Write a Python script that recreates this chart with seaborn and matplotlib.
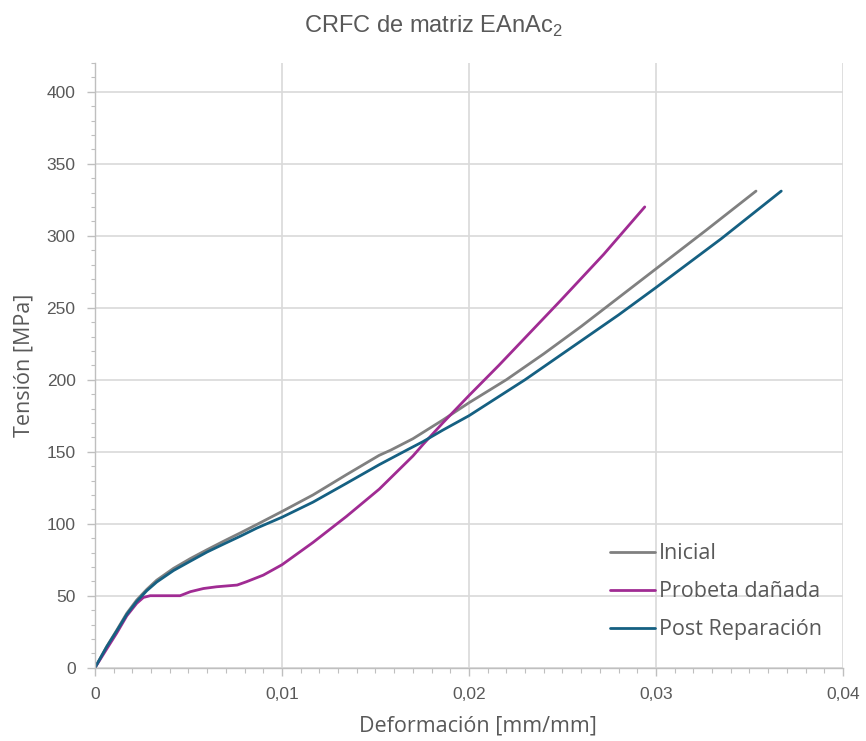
import numpy as np
import pandas as pd
import matplotlib
matplotlib.use("Agg")
import matplotlib.pyplot as plt
import seaborn as sns
from matplotlib.ticker import MultipleLocator

# ---- data ----
x_inicial = [0, 0.000625, 0.00116, 0.0017, 0.00223, 0.00277, 0.0033, 0.0042, 0.0051, 0.006, 0.0069,
             0.0078, 0.00866, 0.01, 0.01166, 0.01344, 0.0152, 0.0158, 0.017, 0.0186, 0.02, 0.022,
             0.024, 0.026, 0.028, 0.03, 0.0327, 0.03535]
y_inicial = [0, 14.7, 26, 37.8, 47, 54.4, 60.8, 69, 75.8, 82, 88,
             93.8, 99.5, 108.5, 120, 134, 147.5, 151, 159, 172, 184, 200,
             218, 237, 257, 277, 304, 331]

x_danada = [0, 0.000625, 0.00116, 0.0017, 0.00223, 0.00259, 0.00295, 0.00455, 0.0051, 0.0058, 0.0065,
            0.0076, 0.0081, 0.009, 0.01, 0.01166, 0.01344, 0.0152, 0.017, 0.01754, 0.0186, 0.02,
            0.0216, 0.0249, 0.0272, 0.0294]
y_danada = [0, 13, 24, 36, 44.7, 48.8, 50, 50, 52.8, 55, 56.2,
            57.4, 59.7, 64.3, 71.5, 87, 105, 124, 147, 155, 170, 189,
            210, 255, 287, 320]

x_post = [0, 0.000625, 0.00116, 0.0017, 0.00223, 0.00277, 0.0033, 0.0042, 0.0051, 0.006, 0.0069,
          0.0078, 0.00866, 0.01, 0.01166, 0.01344, 0.0152, 0.0168, 0.01754, 0.0186, 0.02, 0.023,
          0.026, 0.028, 0.03, 0.0335, 0.0367]
y_post = [0, 14.5, 25.5, 37, 46, 53.5, 59.5, 67.5, 74, 80.4, 86,
          91.5, 97, 104.5, 115, 128, 141, 152, 157, 165, 175, 200,
          227, 245, 264, 298, 331]

series_names = ["Inicial", "Probeta dañada", "Post Reparación"]
series_colors = ["#808080", "#A02B93", "#156082"]

x_ticks = [0, 0.01, 0.02, 0.03, 0.04]
x_tick_labels = ["0", "0,01", "0,02", "0,03", "0,04"]
y_ticks = [0, 50, 100, 150, 200, 250, 300, 350, 400]
y_tick_labels = ["0", "50", "100", "150", "200", "250", "300", "350", "400"]

title = "CRFC de matriz EAnAc$_\\mathregular{2}$"
x_label = "Deformación [mm/mm]"
y_label = "Tensión [MPa]"

# ---- build long table ----
frames = []
for name, xs, ys in zip(series_names, [x_inicial, x_danada, x_post], [y_inicial, y_danada, y_post]):
    frames.append(pd.DataFrame({"x": xs, "y": ys, "serie": name}))
df = pd.concat(frames, ignore_index=True)

sns.set_theme(style="white")
plt.rcParams["font.family"] = ["Liberation Sans", "DejaVu Sans"]
plt.rcParams["mathtext.fontset"] = "custom"
plt.rcParams["mathtext.rm"] = "Liberation Sans"

fig = plt.figure(figsize=(8.66, 7.41), dpi=100)
ax = fig.add_axes([0.1097, 0.0989, 0.8637, 0.8162])

sns.lineplot(data=df, x="x", y="y", hue="serie", hue_order=series_names,
             palette=dict(zip(series_names, series_colors)), estimator=None, sort=False,
             linewidth=2.0, ax=ax)
for ln in ax.get_lines():
    ln.set_solid_joinstyle("round")
    ln.set_solid_capstyle("round")

ax.set_xlim(0, 0.04)
ax.set_ylim(0, 420)
ax.set_xticks(x_ticks)
ax.set_xticklabels(x_tick_labels)
ax.set_yticks(y_ticks)
ax.set_yticklabels(y_tick_labels)
ax.xaxis.set_minor_locator(MultipleLocator(0.001))
ax.yaxis.set_minor_locator(MultipleLocator(10))

tick_color = "#595959"
ax.tick_params(axis="x", which="major", direction="out", length=6, width=1, color="#bfbfbf",
               labelsize=12.5, labelcolor=tick_color, pad=8, bottom=True)
ax.tick_params(axis="x", which="minor", direction="out", length=3.5, width=0.8, color="#bfbfbf", bottom=True)
ax.tick_params(axis="y", which="major", direction="out", length=6, width=1, color="#bfbfbf",
               labelsize=12.5, labelcolor=tick_color, pad=8, left=True)
ax.tick_params(axis="y", which="minor", direction="out", length=3, width=0.8, color="#bfbfbf", left=True)

ax.grid(True, which="major", color="#d9d9d9", linewidth=1.2)
for s in ["top", "right"]:
    ax.spines[s].set_visible(False)
for s in ["left", "bottom"]:
    ax.spines[s].set_color("#bfbfbf")
    ax.spines[s].set_linewidth(1.0)

lab_font = ["Open Sans", "DejaVu Sans"]
ax.set_xlabel(x_label, fontsize=15.5, color=tick_color, family=lab_font, va="center")
ax.set_ylabel(y_label, fontsize=15.5, color=tick_color, family=lab_font, va="center")
ax.xaxis.set_label_coords(0.512, -0.097)
ax.yaxis.set_label_coords(-0.095, 0.5)

fig.text(0.5, 0.965, title, ha="center", va="center", fontsize=17, color=tick_color)

leg = ax.legend(loc="lower right", bbox_to_anchor=(0.972, 0.045), frameon=False,
                borderpad=0, borderaxespad=0,
                handlelength=2.1, handletextpad=0.2, labelspacing=0.8,
                prop={"family": lab_font, "size": 15.5})
for t in leg.get_texts():
    t.set_color(tick_color)

fig.savefig("out.png", dpi=100, facecolor="white")
